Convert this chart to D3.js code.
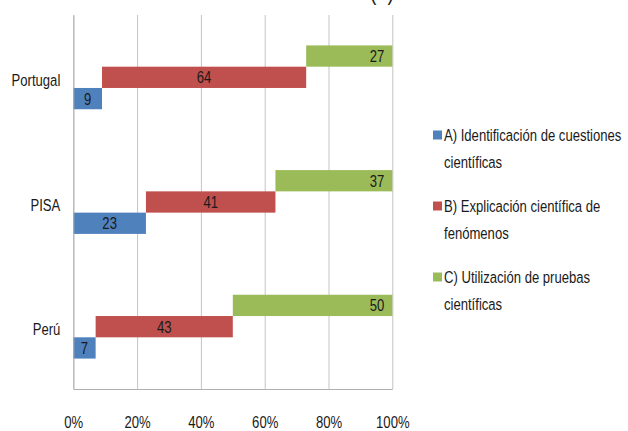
<!DOCTYPE html>
<html><head><meta charset="utf-8">
<script src="https://cdn.jsdelivr.net/npm/d3@7"></script>
<style>
html,body{margin:0;padding:0;background:#fff;}
svg{display:block;font-family:"Liberation Sans",Arial,sans-serif;}
</style></head>
<body>
<svg id="chart" width="628" height="431"></svg>
<script>
const categories = ["Portugal", "PISA", "Perú"];
const seriesNames = [
  ["A) Identificación de cuestiones", "científicas"],
  ["B) Explicación científica de", "fenómenos"],
  ["C) Utilización de pruebas", "científicas"]
];
const seriesKeys = ["A", "B", "C"];
const seriesA = [9, 23, 7];
const seriesB = [64, 41, 43];
const seriesC = [27, 37, 50];
const colors = ["#4F81BD", "#C0504D", "#9BBB59"];
const xTicks = [0, 0.2, 0.4, 0.6, 0.8, 1];
const titleText = "(a)";

const FS = 17, SQ = 0.77;
const svg = d3.select("#chart");
const m = {left: 73.3, right: 628 - 392.3, top: 15, bottom: 431 - 389};
const W = 628, H = 431;

const x = d3.scaleLinear().domain([0, 1]).range([m.left, W - m.right]);
const y = d3.scaleBand().domain(categories).range([m.top, H - m.bottom]).padding(0);
const yIn = d3.scaleBand().domain(["C", "B", "A"]).range([0, y.bandwidth()])
  .paddingInner(0).paddingOuter(1.43);

// partial title (cropped at top in the original)
svg.append("text").attr("x", 382).attr("y", 0).attr("text-anchor", "middle")
  .attr("font-size", 26).attr("fill", "#222").text(titleText);

// gridlines + x axis
const xAxis = d3.axisBottom(x).tickValues(xTicks).tickFormat(d3.format(".0%"))
  .tickSize(-(H - m.bottom - m.top)).tickSizeOuter(0);
const gx = svg.append("g").attr("transform", `translate(0,${H - m.bottom})`).call(xAxis);
gx.selectAll(".tick line").attr("stroke", "#c4c4c4").attr("stroke-width", 1);
gx.select(".domain").attr("stroke", "#b0b0b0");
gx.selectAll(".tick text").attr("y", 38.5).attr("dy", 0)
  .attr("font-size", FS).attr("fill", "#1a1a1a").attr("font-family", null);

// data stacked & normalized
const rows = categories.map((c, i) => {
  const vals = [seriesA[i], seriesB[i], seriesC[i]];
  const tot = d3.sum(vals);
  let acc = 0;
  return vals.map((v, j) => {
    const r = {cat: c, key: seriesKeys[j], v: v, x0: acc / tot, x1: (acc + v) / tot, color: colors[j]};
    acc += v;
    return r;
  });
}).flat();

svg.append("g").selectAll("rect").data(rows).join("rect")
  .attr("x", d => x(d.x0))
  .attr("width", d => x(d.x1) - x(d.x0))
  .attr("y", d => y(d.cat) + yIn(d.key))
  .attr("height", yIn.bandwidth())
  .attr("fill", d => d.color);

svg.append("g").selectAll("text").data(rows).join("text")
  .attr("x", d => d.key === "C" ? x(d.x1) - 8 : (x(d.x0) + x(d.x1)) / 2)
  .attr("text-anchor", d => d.key === "C" ? "end" : "middle")
  .attr("y", d => y(d.cat) + yIn(d.key) + yIn.bandwidth() / 2 + 6)
  .attr("font-size", FS).attr("fill", "#1a1a1a")
  .text(d => d.v);

// category axis
const gy = svg.append("g").attr("transform", `translate(${m.left},0)`)
  .call(d3.axisLeft(y).tickSize(0).tickPadding(13));
gy.select(".domain").attr("stroke", "#b0b0b0");
gy.selectAll(".tick text").attr("font-size", FS).attr("fill", "#1a1a1a")
  .attr("font-family", null).attr("dy", "0.5em");

// legend
const lg = svg.append("g");
seriesNames.forEach((lines, i) => {
  const cy = 135 + i * 71;
  lg.append("rect").attr("x", 433).attr("y", cy - 4.5).attr("width", 9).attr("height", 9).attr("fill", colors[i]);
  lines.forEach((t, k) => {
    lg.append("text").attr("x", 444).attr("y", cy + 6 + k * 26.5)
      .attr("font-size", FS).attr("fill", "#1a1a1a").text(t);
  });
});

// condense all text horizontally (around its anchor) to mimic a narrow Calibri-like face
svg.selectAll("text").each(function() {
  const t = d3.select(this);
  const tx = +(t.attr("x") || 0), ty = +(t.attr("y") || 0);
  t.attr("x", 0).attr("y", 0)
   .attr("transform", `translate(${tx},${ty}) scale(${SQ},1)`);
});
</script>
</body></html>
